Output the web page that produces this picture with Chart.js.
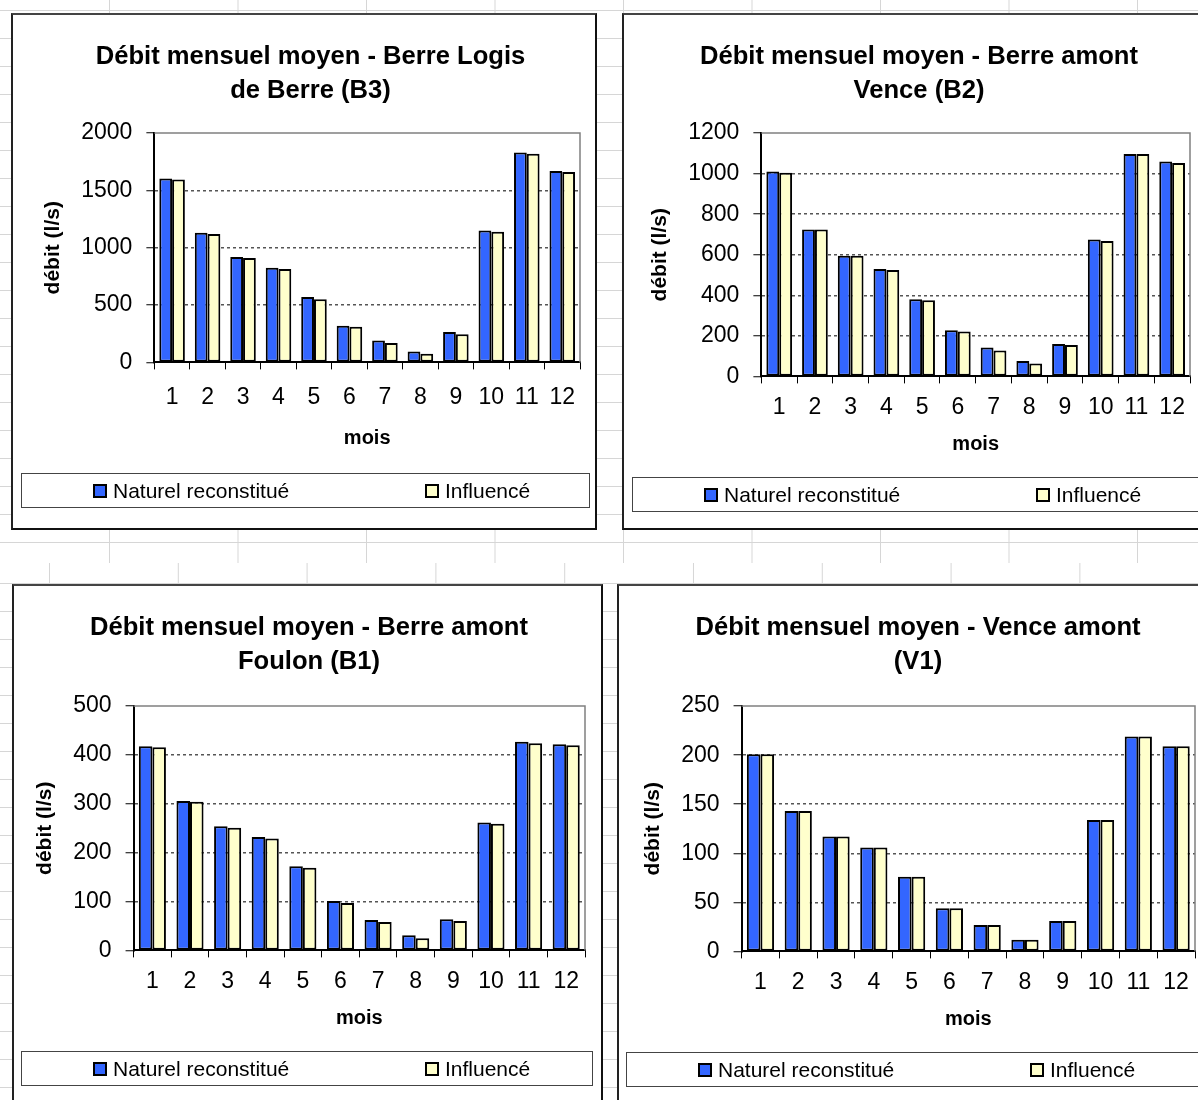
<!DOCTYPE html>
<html>
<head>
<meta charset="utf-8">
<script src="https://cdn.jsdelivr.net/npm/chart.js@4.4.1/dist/chart.umd.min.js"></script>
<style>
  html, body { margin: 0; padding: 0; width: 1198px; height: 1100px; overflow: hidden; background: #fff; }
  body { position: relative; font-family: "Liberation Sans", Arial, sans-serif; }
  .sheet { position: absolute; left: 0; width: 1198px;
    background-image: linear-gradient(to right, #d6d6d6 1px, transparent 1px),
                      linear-gradient(to bottom, #d6d6d6 1px, transparent 1px); }
  .sheet.top { top: 0; height: 563px; background-size: 128.5px 100%, 100% 28px; background-position: 109px 0, 0 10px; }
  .sheet.bottom { top: 563px; height: 537px; background-size: 128.8px 100%, 100% 28px; background-position: 49px 0, 0 20px; }
  .box { position: absolute; box-sizing: border-box; background: #fff;
    border: 2px solid #111; border-top-color: #444; border-left-color: #222; }
  .box canvas { position: absolute; left: 0; top: 0; }
  .legend { position: absolute; box-sizing: border-box; height: 35px; border: 1px solid #444;
    display: flex; align-items: center; padding-left: 71px; font-size: 21px; color: #000; white-space: nowrap; }
  .legend span { display: flex; align-items: center; }
  .legend span.first { width: 332px; }
  .legend i { display: inline-block; box-sizing: border-box; width: 14px; height: 14px; border: 2px solid #000; margin-right: 6px; }
</style>
</head>
<body>
<div class="sheet top"></div>
<div class="sheet bottom"></div>
<div id="charts"></div>
<script>
// mois
var months = ["1","2","3","4","5","6","7","8","9","10","11","12"];
var seriesNames = ["Naturel reconstitué", "Influencé"];
var seriesColors = ["#3366FF", "#FFFFCC"];

// Berre Logis de Berre (B3)
var b3Naturel   = [1605, 1130, 920, 825, 570, 320, 190, 95, 265, 1150, 1830, 1670];
var b3Influence = [1595, 1120, 910, 815, 550, 310, 170, 75, 245, 1140, 1820, 1660];
// Berre amont Vence (B2)
var b2Naturel   = [1010, 725, 595, 530, 380, 228, 143, 76, 160, 675, 1097, 1060];
var b2Influence = [1005, 725, 595, 525, 375, 222, 128, 64, 155, 668, 1097, 1053];
// Berre amont Foulon (B1)
var b1Naturel   = [418, 306, 254, 232, 172, 101, 62, 31, 64, 262, 427, 422];
var b1Influence = [416, 304, 251, 229, 169, 97, 58, 25, 60, 259, 424, 420];
// Vence amont (V1)
var v1Naturel   = [201, 143, 117, 106, 76, 44, 27, 12, 31, 134, 219, 209];
var v1Influence = [201, 143, 117, 106, 76, 44, 27, 12, 31, 134, 219, 209];

var titles = [
    ["Débit mensuel moyen - Berre Logis", "de Berre (B3)"],
    ["Débit mensuel moyen - Berre amont", "Vence (B2)"],
    ["Débit mensuel moyen - Berre amont", "Foulon (B1)"],
    ["Débit mensuel moyen - Vence amont", "(V1)"]
];
var yMax  = [2000, 1200, 500, 250];
var yStep = [500, 200, 100, 50];

var xTitle = "mois";
var yTitle = "débit (l/s)";

// chart frames (page layout)
var frames = [
    {box: [11, 13, 586, 517],  pad: {left: 28, right: 15, top: 0, bottom: 78}, titleGap: 25, xPad: 14, legend: [8, 458, 569]},
    {box: [622, 13, 595, 517], pad: {left: 24, right: 25, top: 0, bottom: 72}, titleGap: 25, xPad: 10, legend: [8, 462, 578]},
    {box: [12, 584, 591, 530], pad: {left: 19, right: 16, top: 0, bottom: 82}, titleGap: 27, xPad: 10, legend: [7, 465, 572]},
    {box: [617, 584, 598, 530], pad: {left: 22, right: 18, top: 0, bottom: 81}, titleGap: 27, xPad: 10, legend: [7, 466, 580]}
];
var series = [
    [b3Naturel, b3Influence],
    [b2Naturel, b2Influence],
    [b1Naturel, b1Influence],
    [v1Naturel, v1Influence]
];

Chart.defaults.font.family = '"Liberation Sans", Arial, sans-serif';
Chart.defaults.color = "#000";

// gray top/right edge of the plot area, like Excel
var plotFrame = {
    id: "plotFrame",
    afterDatasetsDraw: function(chart) {
        var a = chart.chartArea, ctx = chart.ctx;
        ctx.save();
        ctx.strokeStyle = "#808080";
        ctx.lineWidth = 1.5;
        ctx.beginPath();
        ctx.moveTo(a.left, a.top);
        ctx.lineTo(a.right, a.top);
        ctx.lineTo(a.right, a.bottom);
        ctx.stroke();
        ctx.restore();
    }
};

var holder = document.getElementById("charts");

frames.forEach(function(f, i) {
    var box = document.createElement("div");
    box.className = "box";
    box.style.left = f.box[0] + "px";
    box.style.top = f.box[1] + "px";
    box.style.width = f.box[2] + "px";
    box.style.height = f.box[3] + "px";
    holder.appendChild(box);

    var canvas = document.createElement("canvas");
    canvas.width = f.box[2] - 4;
    canvas.height = f.box[3] - 4;
    box.appendChild(canvas);

    var legend = document.createElement("div");
    legend.className = "legend";
    legend.style.left = f.legend[0] + "px";
    legend.style.top = f.legend[1] + "px";
    legend.style.width = f.legend[2] + "px";
    seriesNames.forEach(function(name, k) {
        var s = document.createElement("span");
        if (k == 0) s.className = "first";
        var sw = document.createElement("i");
        sw.style.background = seriesColors[k];
        s.appendChild(sw);
        s.appendChild(document.createTextNode(name));
        legend.appendChild(s);
    });
    box.appendChild(legend);

    var max = yMax[i];
    new Chart(canvas, {
        type: "bar",
        data: {
            labels: months,
            datasets: seriesNames.map(function(name, k) {
                return {
                    label: name,
                    data: series[i][k],
                    backgroundColor: seriesColors[k],
                    borderColor: "#000",
                    borderWidth: 2,
                    borderSkipped: false,
                    categoryPercentage: 0.72,
                    barPercentage: 1.0
                };
            })
        },
        options: {
            responsive: false,
            animation: false,
            devicePixelRatio: 1,
            layout: { padding: f.pad },
            plugins: {
                legend: { display: false },
                tooltip: { enabled: false },
                title: {
                    display: true,
                    text: titles[i],
                    color: "#000",
                    font: { size: 25.6, weight: "bold", lineHeight: 1.33 },
                    padding: { top: 25, bottom: f.titleGap }
                }
            },
            scales: {
                x: {
                    grid: { offset: true, drawOnChartArea: false, tickLength: 7, tickColor: "#000", lineWidth: 1 },
                    border: { color: "#000", width: 2 },
                    ticks: { font: { size: 23 }, padding: f.xPad, maxRotation: 0, autoSkip: false },
                    title: { display: true, text: xTitle, font: { size: 20, weight: "bold" }, padding: { top: 1, bottom: 0 } }
                },
                y: {
                    min: 0,
                    max: max,
                    grid: {
                        color: function(c) {
                            return (c.tick.value === 0 || c.tick.value === max) ? "rgba(0,0,0,0)" : "#555";
                        },
                        lineWidth: 1.5,
                        tickLength: 8,
                        tickColor: "#000",
                        tickWidth: 1,
                        tickBorderDash: []
                    },
                    border: { color: "#000", width: 2, dash: [3, 3] },
                    ticks: {
                        stepSize: yStep[i],
                        font: { size: 23 },
                        padding: 14,
                        callback: function(v) { return String(v); }
                    },
                    title: { display: true, text: yTitle, font: { size: 21, weight: "bold" }, padding: { top: 0, bottom: 1 } }
                }
            }
        },
        plugins: [plotFrame]
    });
});
</script>
</body>
</html>
